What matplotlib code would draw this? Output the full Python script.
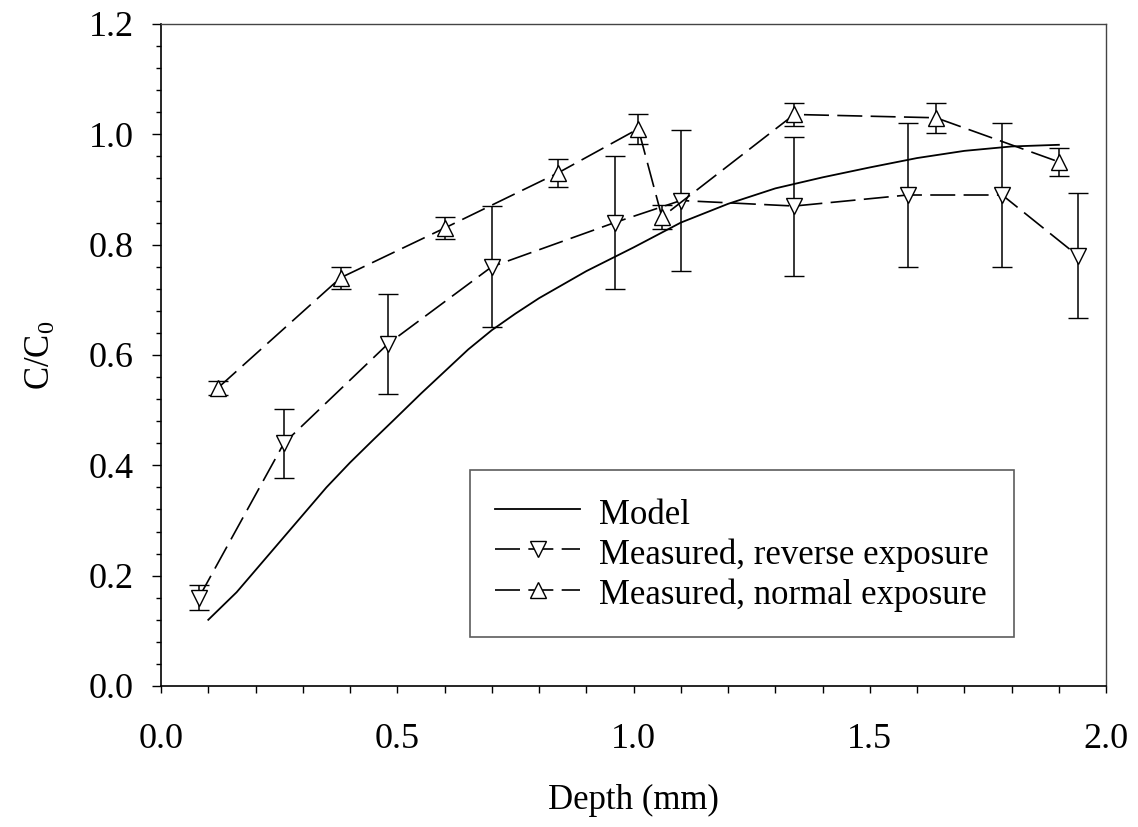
import numpy as np
import matplotlib.pyplot as plt
from matplotlib.lines import Line2D
from matplotlib.ticker import MultipleLocator

plt.rcParams['font.family'] = ['Liberation Serif', 'DejaVu Serif']
plt.rcParams['mathtext.fontset'] = 'custom'
plt.rcParams['mathtext.rm'] = 'Liberation Serif'
plt.rcParams['mathtext.it'] = 'Liberation Serif'

# Model curve
model_x = [0.10, 0.13, 0.16, 0.20, 0.25, 0.30, 0.35, 0.40, 0.45, 0.49, 0.55, 0.60, 0.65,
           0.70, 0.75, 0.80, 0.90, 1.00, 1.10, 1.20, 1.30, 1.40, 1.50, 1.60, 1.70, 1.80, 1.90]
model_y = [0.12, 0.145, 0.17, 0.21, 0.26, 0.31, 0.36, 0.405, 0.447, 0.48, 0.53, 0.57, 0.61,
           0.645, 0.675, 0.703, 0.752, 0.795, 0.84, 0.874, 0.902, 0.922, 0.940, 0.957, 0.970, 0.978, 0.981]

# Measured, reverse exposure
rev_x = [0.08, 0.26, 0.48, 0.70, 0.96, 1.10, 1.34, 1.58, 1.78, 1.94]
rev_y = [0.16, 0.44, 0.62, 0.76, 0.84, 0.88, 0.87, 0.89, 0.89, 0.78]
rev_err = [0.023, 0.063, 0.09, 0.11, 0.12, 0.128, 0.126, 0.13, 0.13, 0.113]

# Measured, normal exposure
norm_x = [0.12, 0.38, 0.60, 0.84, 1.01, 1.06, 1.34, 1.64, 1.90]
norm_y = [0.54, 0.74, 0.83, 0.93, 1.01, 0.85, 1.036, 1.03, 0.95]
norm_err = [0.012, 0.02, 0.02, 0.025, 0.027, 0.021, 0.021, 0.027, 0.026]

fig = plt.figure(figsize=(11.38, 8.27), dpi=100)
ax = fig.add_axes([0.1415, 0.1705, 0.8305, 0.8005])

ax.plot(model_x, model_y, color='black', lw=1.3)

style = dict(color='black', lw=1.2, dashes=(15, 5), ms=12, mfc='white', mec='black', mew=1.0)
bars = dict(ecolor='black', elinewidth=1.1, capsize=7, capthick=1.1)
ax.errorbar(rev_x, rev_y, yerr=rev_err, marker='v', **bars, **style)
ax.errorbar(norm_x, norm_y, yerr=norm_err, marker='^', **bars, **style)

ax.set_xlim(0, 2.0)
ax.set_ylim(0, 1.2)
ax.xaxis.set_major_locator(MultipleLocator(0.5))
ax.xaxis.set_minor_locator(MultipleLocator(0.1))
ax.yaxis.set_major_locator(MultipleLocator(0.2))
ax.yaxis.set_minor_locator(MultipleLocator(0.04))
ax.xaxis.set_major_formatter(plt.FormatStrFormatter('%.1f'))
ax.yaxis.set_major_formatter(plt.FormatStrFormatter('%.1f'))

ax.tick_params(which='both', direction='out', top=False, right=False, width=1.0)
ax.tick_params(axis='y', which='major', length=6.5, pad=13, labelsize=26)
ax.tick_params(axis='y', which='minor', length=3.5)
ax.tick_params(axis='x', which='major', length=5, pad=22, labelsize=26)
ax.tick_params(axis='x', which='minor', length=5)

for side in ['left', 'bottom']:
    ax.spines[side].set_linewidth(1.2)
for side in ['top', 'right']:
    ax.spines[side].set_linewidth(1.0)
    ax.spines[side].set_color('#444444')

ax.set_xlabel('Depth (mm)', fontsize=25, labelpad=20)
ax.set_ylabel('C/C$_0$', fontsize=25, labelpad=22)

handles = [
    Line2D([], [], color='black', lw=1.3),
    Line2D([], [], marker='v', **style),
    Line2D([], [], marker='^', **style),
]
labels = ['Model', 'Measured, reverse exposure', 'Measured, normal exposure']
leg = ax.legend(handles, labels, loc='lower right', bbox_to_anchor=(0.9026, 0.074),
                fontsize=25, frameon=True, fancybox=False, edgecolor='#333333',
                handlelength=2.45, handleheight=1.15, handletextpad=0.55,
                borderpad=0.72, labelspacing=0.09, borderaxespad=0)
leg.get_frame().set_linewidth(1.2)

fig.savefig('out.png', dpi=100)
